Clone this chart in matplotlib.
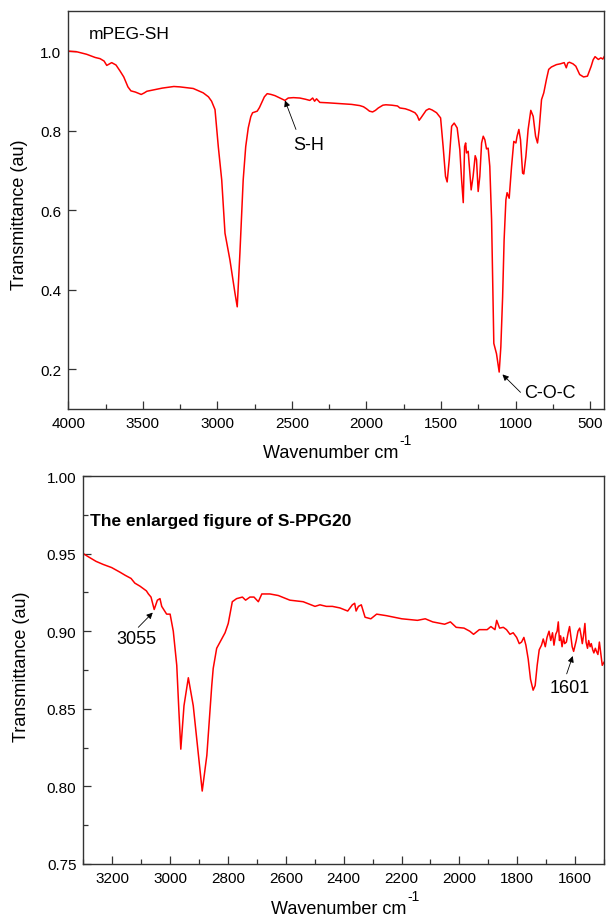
import matplotlib
matplotlib.use("Agg")
import matplotlib.pyplot as plt
from matplotlib.ticker import MultipleLocator

plt.rcParams['font.family'] = ['Liberation Sans', 'DejaVu Sans']

# Painel superior: mPEG-SH
wn_peg = [4000, 3940, 3877, 3820, 3787, 3760, 3742, 3709, 3680, 3653, 3628, 3600, 3580, 3550,
          3511, 3490, 3473, 3420, 3369, 3292, 3251, 3162, 3095, 3060, 3039, 3016, 2994, 2971,
          2949, 2916, 2882, 2867, 2849, 2827, 2810, 2793, 2776, 2764, 2733, 2718, 2703, 2685,
          2666, 2640, 2614, 2581, 2547, 2525, 2490, 2447, 2410, 2380, 2361, 2348, 2335, 2313,
          2260, 2179, 2100, 2045, 2020, 2000, 1980, 1959, 1940, 1921, 1890, 1870, 1830, 1792,
          1776, 1740, 1709, 1675, 1660, 1647, 1635, 1620, 1600, 1580, 1560, 1530, 1503, 1486,
          1470, 1459, 1445, 1429, 1412, 1392, 1374, 1362, 1351, 1342, 1335, 1329, 1318, 1307,
          1298, 1285, 1271, 1262, 1251, 1240, 1228, 1217, 1206, 1195, 1184, 1173, 1161, 1154,
          1146, 1128, 1110, 1099, 1087, 1077, 1065, 1057, 1043, 1027, 1012, 998, 990, 978,
          967, 953, 945, 931, 916, 898, 882, 866, 853, 842, 826, 811, 793, 778, 760, 726,
          700, 674, 660, 650, 639, 615, 596, 570, 544, 518, 500, 493, 480, 467, 455, 445,
          428, 415, 406]
t_peg = [1.000, 0.998, 0.992, 0.984, 0.981, 0.975, 0.964, 0.971, 0.965, 0.950, 0.935, 0.910, 0.900, 0.897,
         0.891, 0.895, 0.899, 0.903, 0.907, 0.911, 0.910, 0.906, 0.895, 0.885, 0.874, 0.853, 0.760, 0.676,
         0.542, 0.475, 0.391, 0.357, 0.492, 0.676, 0.760, 0.807, 0.835, 0.845, 0.849, 0.858, 0.870, 0.885,
         0.893, 0.891, 0.888, 0.882, 0.876, 0.882, 0.883, 0.882, 0.879, 0.876, 0.882, 0.874, 0.880, 0.871,
         0.870, 0.868, 0.866, 0.863, 0.860, 0.855, 0.849, 0.847, 0.851, 0.857, 0.864, 0.865, 0.864, 0.862,
         0.857, 0.855, 0.851, 0.845, 0.838, 0.826, 0.832, 0.840, 0.851, 0.855, 0.852, 0.845, 0.832, 0.760,
         0.685, 0.671, 0.727, 0.811, 0.819, 0.807, 0.752, 0.676, 0.619, 0.760, 0.769, 0.744, 0.748, 0.693,
         0.651, 0.685, 0.737, 0.727, 0.647, 0.685, 0.769, 0.786, 0.777, 0.754, 0.756, 0.710, 0.576, 0.424,
         0.265, 0.239, 0.193, 0.256, 0.382, 0.525, 0.626, 0.644, 0.630, 0.710, 0.773, 0.769, 0.786, 0.803,
         0.777, 0.693, 0.691, 0.735, 0.803, 0.851, 0.836, 0.786, 0.769, 0.803, 0.878, 0.895, 0.929, 0.954, 0.960, 0.966,
         0.968, 0.971, 0.958, 0.970, 0.972, 0.968, 0.962, 0.941, 0.935, 0.937, 0.955, 0.962, 0.978, 0.986, 0.982, 0.979,
         0.983, 0.980, 0.986]

# Painel inferior: S-PPG20 ampliado
wn_ppg = [3300, 3283, 3256, 3231, 3202, 3173, 3155, 3135, 3122, 3104, 3082, 3075, 3066, 3055,
          3044, 3035, 3029, 3012, 3000, 2989, 2977, 2970, 2963, 2952, 2937, 2920, 2902, 2889,
          2873, 2856, 2851, 2839, 2810, 2799, 2785, 2770, 2750, 2739, 2724, 2710, 2695, 2683,
          2655, 2626, 2586, 2540, 2499, 2482, 2460, 2439, 2413, 2386, 2370, 2362, 2357, 2349,
          2339, 2326, 2306, 2286, 2252, 2199, 2145, 2118, 2092, 2051, 2031, 2011, 1984, 1964,
          1951, 1931, 1904, 1891, 1877, 1871, 1861, 1848, 1837, 1825, 1814, 1802, 1793, 1785,
          1777, 1770, 1762, 1754, 1745, 1738, 1731, 1724, 1716, 1710, 1703, 1697, 1690, 1684,
          1678, 1673, 1667, 1662, 1658, 1654, 1650, 1645, 1640, 1636, 1630, 1624, 1619, 1614,
          1610, 1605, 1600, 1596, 1590, 1584, 1580, 1575, 1571, 1566, 1562, 1557, 1553, 1548,
          1544, 1539, 1535, 1530, 1526, 1521, 1516, 1512, 1506, 1500]
t_ppg = [0.950, 0.948, 0.945, 0.943, 0.941, 0.938, 0.936, 0.934, 0.931, 0.929, 0.926, 0.924, 0.922, 0.914,
         0.920, 0.921, 0.916, 0.911, 0.911, 0.900, 0.878, 0.850, 0.824, 0.852, 0.870, 0.852, 0.820, 0.797,
         0.820, 0.865, 0.876, 0.889, 0.899, 0.905, 0.919, 0.921, 0.922, 0.920, 0.922, 0.922, 0.919, 0.924,
         0.924, 0.923, 0.920, 0.919, 0.916, 0.917, 0.916, 0.916, 0.915, 0.913, 0.917, 0.918, 0.913, 0.916,
         0.917, 0.909, 0.908, 0.911, 0.910, 0.908, 0.907, 0.908, 0.906, 0.9045, 0.906, 0.9025, 0.902, 0.900,
         0.898, 0.901, 0.901, 0.903, 0.901, 0.907, 0.902, 0.9025, 0.901, 0.898, 0.899, 0.896, 0.892, 0.893,
         0.896, 0.891, 0.882, 0.869, 0.862, 0.865, 0.878, 0.888, 0.891, 0.895, 0.890, 0.896, 0.900, 0.894,
         0.899, 0.891, 0.898, 0.900, 0.906, 0.894, 0.897, 0.890, 0.896, 0.892, 0.893, 0.899, 0.903, 0.896,
         0.890, 0.887, 0.891, 0.894, 0.900, 0.902, 0.898, 0.892, 0.897, 0.905, 0.893, 0.889, 0.894, 0.890,
         0.892, 0.888, 0.886, 0.889, 0.887, 0.885, 0.893, 0.887, 0.878, 0.880]

cor = '#ff0000'
tam_tick = 11
tam_label = 13

fig = plt.figure(figsize=(6.06, 9.2), dpi=100)

def estilo(ax):
    for s in ax.spines.values():
        s.set_linewidth(1.0)
        s.set_color('#333333')
    ax.tick_params(which='both', direction='in', colors='#333333', labelcolor='black',
                   labelsize=tam_tick, width=0.9)
    ax.tick_params(which='major', length=5.5, pad=5)
    ax.tick_params(which='minor', length=3.5)

# ---- grafico de cima ----
ax1 = fig.add_axes([0.1127, 0.5543, 0.8845, 0.4323])
ax1.plot(wn_peg, t_peg, color=cor, lw=1.1)
ax1.set_xlim(4000, 405)
ax1.set_ylim(0.1, 1.1)
ax1.xaxis.set_major_locator(MultipleLocator(500))
ax1.xaxis.set_minor_locator(MultipleLocator(250))
ax1.yaxis.set_major_locator(MultipleLocator(0.2))
ax1.yaxis.set_major_formatter(plt.FormatStrFormatter('%.1f'))
estilo(ax1)
ax1.set_xlabel('Wavenumber cm', fontsize=tam_label)
ax1.set_ylabel('Transmittance (au)', fontsize=tam_label)
ax1.xaxis.set_label_coords(0.489, -0.088)
ax1.yaxis.set_label_coords(-0.075, 0.49)
ax1.text(0.038, 0.943, 'mPEG-SH', transform=ax1.transAxes, fontsize=12.5, va='center', ha='left')

seta = dict(arrowstyle='-|>', color='black', lw=0.6, mutation_scale=9, shrinkA=0, shrinkB=0)
ax1.annotate('', xy=(2547, 0.876), xytext=(2473, 0.803), arrowprops=seta)
ax1.text(2390, 0.765, 'S-H', fontsize=13, ha='center', va='center')
ax1.annotate('', xy=(1088, 0.187), xytext=(967, 0.142), arrowprops=seta)
ax1.text(945, 0.1425, 'C-O-C', fontsize=13, ha='left', va='center')

# ---- grafico de baixo ----
ax2 = fig.add_axes([0.1375, 0.0598, 0.8592, 0.4217])
ax2.plot(wn_ppg, t_ppg, color=cor, lw=1.1)
ax2.set_xlim(3300, 1500)
ax2.set_ylim(0.75, 1.00)
ax2.xaxis.set_major_locator(MultipleLocator(200))
ax2.xaxis.set_minor_locator(MultipleLocator(100))
ax2.yaxis.set_major_locator(MultipleLocator(0.05))
ax2.yaxis.set_minor_locator(MultipleLocator(0.025))
ax2.yaxis.set_major_formatter(plt.FormatStrFormatter('%.2f'))
estilo(ax2)
ax2.set_xlabel('Wavenumber cm', fontsize=tam_label)
ax2.set_ylabel('Transmittance (au)', fontsize=tam_label)
ax2.xaxis.set_label_coords(0.49, -0.092)
ax2.yaxis.set_label_coords(-0.102, 0.51)
ax2.text(0.012, 0.885, 'The enlarged figure of S-PPG20', transform=ax2.transAxes,
         fontsize=12.5, fontweight='bold', va='center', ha='left')

ax2.annotate('', xy=(3060, 0.912), xytext=(3110, 0.9025), arrowprops=seta)
ax2.text(3115, 0.8956, '3055', fontsize=13, ha='center', va='center')
ax2.annotate('', xy=(1608, 0.884), xytext=(1629, 0.8725), arrowprops=seta)
ax2.text(1619, 0.8638, '1601', fontsize=13, ha='center', va='center')

# expoente "-1" depois do rotulo do eixo x
fig.canvas.draw()
rend = fig.canvas.get_renderer()
W, H = fig.bbox.width, fig.bbox.height
for ax in (ax1, ax2):
    bb = ax.xaxis.label.get_window_extent(rend)
    fig.text((bb.x1 + 1) / W, (bb.y1 - 3) / H, '-1', fontsize=10, ha='left', va='bottom')

plt.savefig('out.png', dpi=100)
